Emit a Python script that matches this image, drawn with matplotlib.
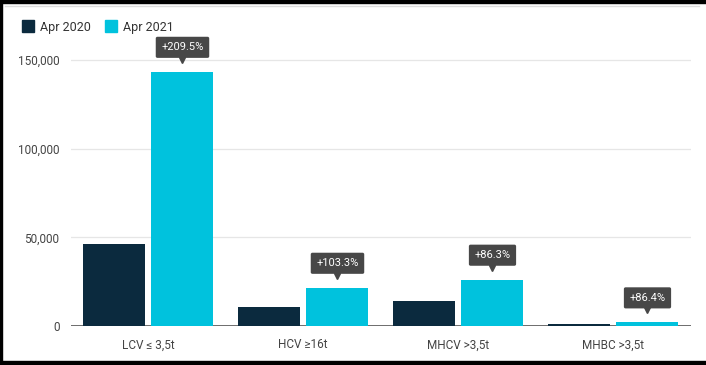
import numpy as np
import matplotlib.pyplot as plt
import matplotlib.transforms as mtransforms
from matplotlib.patches import Rectangle
from matplotlib.lines import Line2D

plt.rcParams['font.family'] = ['Roboto', 'DejaVu Sans']

categories = ["LCV \u2264 3,5t", "HCV \u226516t", "MHCV >3,5t", "MHBC >3,5t"]
apr_2020 = [46300, 10600, 14000, 1100]
apr_2021 = [143300, 21550, 26100, 2050]
growth = ["+209.5%", "+103.3%", "+86.3%", "+86.4%"]
yticks = [0, 50000, 100000, 150000]

c2020 = "#0b2a3e"
c2021 = "#00c2dd"

fig = plt.figure(figsize=(7.06, 3.65), dpi=100)
ax = fig.add_axes([70.5 / 706, 39 / 365, 620 / 706, 283.8 / 365])

x = np.arange(len(categories))
w = 0.4
ax.bar(x - 0.2225, apr_2020, w, color=c2020, zorder=3)
ax.bar(x + 0.2225, apr_2021, w, color=c2021, zorder=3)

ax.set_xlim(-0.5, 3.5)
ax.set_ylim(0, 160000)
ax.set_yticks(yticks)
ax.set_yticklabels([f"{v:,}" for v in yticks])
ax.set_xticks(x)
ax.set_xticklabels(categories)
ax.tick_params(axis="both", length=0, labelsize=8.5, colors="#444444")
ax.tick_params(axis="y", pad=8)
ax.tick_params(axis="x", pad=9)
for s in ax.spines.values():
    s.set_visible(False)
ax.grid(axis="y", color="#e6e6e6", lw=0.9)
ax.set_axisbelow(True)
ax.axhline(0, color="#555555", lw=1.2, zorder=2)

# growth labels above the 2021 bars
for i, (v, g) in enumerate(zip(apr_2021, growth)):
    xi = i + 0.2225
    tr = mtransforms.offset_copy(ax.transData, fig=fig, y=24.5, units="dots")
    ax.text(xi, v, g, transform=tr, ha="center", va="center", color="white",
            fontsize=8, zorder=5,
            bbox=dict(boxstyle="round,pad=0.5,rounding_size=0.15", fc="#474747", ec="none"))
    tr2 = mtransforms.offset_copy(ax.transData, fig=fig, y=12, units="dots")
    ax.plot(xi, v, marker="v", ms=5, color="#474747", transform=tr2, clip_on=False, zorder=5)

handles = [Line2D([], [], marker="s", ls="", ms=8, color=c2020),
           Line2D([], [], marker="s", ls="", ms=8, color=c2021)]
fig.legend(handles, ["Apr 2020", "Apr 2021"], loc="center left",
           bbox_to_anchor=(10 / 706, 1 - 27 / 365), ncol=2, frameon=False,
           fontsize=9, handlelength=1, handletextpad=0.5, columnspacing=1.1,
           labelcolor="#333333")

# screenshot frame
fig.patches.append(Rectangle((0, 1 - 3 / 365), 1, 3 / 365, transform=fig.transFigure, color="black"))
fig.patches.append(Rectangle((0, 0), 1, 4 / 365, transform=fig.transFigure, color="black"))
fig.patches.append(Rectangle((0, 0), 2 / 706, 1, transform=fig.transFigure, color="black"))
fig.lines.append(Line2D([5 / 706, 699 / 706], [1 - 6 / 365] * 2, transform=fig.transFigure,
                        color="#dddddd", lw=1))

fig.savefig("out.png", dpi=100)
